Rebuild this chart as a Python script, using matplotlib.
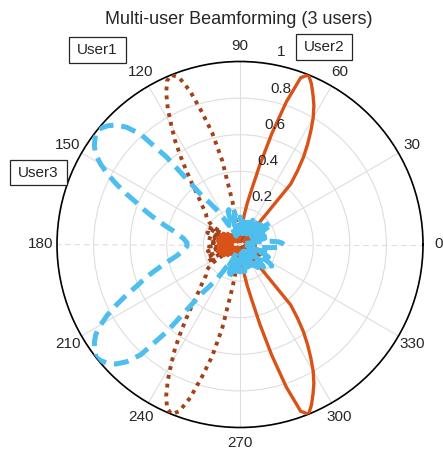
import numpy as np
import matplotlib
matplotlib.use('Agg')
import matplotlib.pyplot as plt
from matplotlib.patches import Rectangle

plt.rcParams['font.family'] = ['Liberation Sans', 'DejaVu Sans']

# Beam pattern magnitudes, sampled every 2 degrees from 0 to 180
# (the array response is mirror-symmetric about the 0-180 axis)
angles_deg = list(range(0, 182, 2))

user1_gain = [
    0.06, 0.09, 0.05, 0.03, 0.07, 0.10, 0.06, 0.03, 0.08, 0.12,
    0.09, 0.04, 0.09, 0.13, 0.14, 0.08, 0.04, 0.09, 0.12, 0.08,
    0.03, 0.07, 0.10, 0.07, 0.02, 0.06, 0.09, 0.07, 0.03, 0.05,
    0.08, 0.06, 0.02, 0.05, 0.08, 0.06, 0.02, 0.06, 0.10, 0.08,
    0.03, 0.08, 0.12, 0.10, 0.04, 0.08, 0.12, 0.10, 0.06, 0.12,
    0.24, 0.47, 0.63, 0.75, 0.88, 0.97, 1.00, 0.98, 0.92, 0.84,
    0.75, 0.67, 0.58, 0.50, 0.43, 0.37, 0.33, 0.30, 0.27, 0.25,
    0.24, 0.23, 0.21, 0.18, 0.12, 0.17, 0.20, 0.14, 0.08, 0.15,
    0.19, 0.13, 0.07, 0.14, 0.18, 0.12, 0.06, 0.13, 0.17, 0.11,
    0.08,
]

user2_gain = [
    0.08, 0.06, 0.03, 0.05, 0.08, 0.07, 0.04, 0.08, 0.10, 0.06,
    0.03, 0.07, 0.11, 0.09, 0.04, 0.06, 0.10, 0.11, 0.07, 0.03,
    0.06, 0.08, 0.05, 0.03, 0.12, 0.43, 0.51, 0.59, 0.66, 0.73,
    0.80, 0.86, 0.91, 0.96, 1.00, 0.97, 0.82, 0.63, 0.45, 0.31,
    0.23, 0.16, 0.09, 0.04, 0.06, 0.09, 0.08, 0.03, 0.05, 0.08,
    0.06, 0.02, 0.05, 0.07, 0.05, 0.02, 0.04, 0.06, 0.05, 0.02,
    0.04, 0.06, 0.04, 0.02, 0.05, 0.07, 0.06, 0.02, 0.06, 0.09,
    0.08, 0.03, 0.07, 0.11, 0.09, 0.04, 0.08, 0.12, 0.10, 0.05,
    0.07, 0.11, 0.13, 0.09, 0.04, 0.09, 0.12, 0.10, 0.06, 0.10,
    0.12,
]

user3_gain = [
    0.24, 0.23, 0.21, 0.17, 0.10, 0.04, 0.09, 0.14, 0.13, 0.07,
    0.10, 0.15, 0.17, 0.12, 0.06, 0.13, 0.19, 0.21, 0.20, 0.14,
    0.08, 0.15, 0.18, 0.12, 0.05, 0.11, 0.16, 0.14, 0.07, 0.09,
    0.14, 0.15, 0.10, 0.04, 0.09, 0.13, 0.12, 0.06, 0.08, 0.13,
    0.15, 0.11, 0.05, 0.10, 0.14, 0.15, 0.12, 0.06, 0.09, 0.15,
    0.18, 0.14, 0.07, 0.13, 0.20, 0.19, 0.12, 0.05, 0.10, 0.14,
    0.12, 0.17, 0.23, 0.28, 0.34, 0.62, 0.81, 0.89, 0.94, 0.97,
    0.99, 1.00, 0.98, 0.96, 0.93, 0.88, 0.82, 0.75, 0.68, 0.61,
    0.56, 0.51, 0.46, 0.42, 0.38, 0.35, 0.33, 0.31, 0.30, 0.29,
    0.29,
]

user_names = ['User1', 'User2', 'User3']
r_ticks = [0.2, 0.4, 0.6, 0.8, 1.0]
r_tick_labels = ['0.2', '0.4', '0.6', '0.8', '1']
theta_ticks = list(range(0, 360, 30))


def full_circle(gain):
    # mirror the 0..180 half onto 180..360
    a = np.array(angles_deg, dtype=float)
    g = np.array(gain, dtype=float)
    th = np.concatenate([a, 360 - a[-2::-1]])
    rr = np.concatenate([g, g[-2::-1]])
    return np.deg2rad(th), rr


W, H = 443, 457
fig = plt.figure(figsize=(W / 100, H / 100), dpi=100)
ax = fig.add_axes([57 / W, 1 - 427.5 / H, 366 / W, 366 / H], projection='polar')

txt_color = '#262626'
grid_color = '#dedede'

th, rr = full_circle(user1_gain)
ax.plot(th, rr, color='#a2421a', lw=2.8, linestyle=(0, (1, 1.3)),
        dash_capstyle='butt', zorder=3)
th, rr = full_circle(user2_gain)
ax.plot(th, rr, color='#d95319', lw=2.4, zorder=4)
th, rr = full_circle(user3_gain)
ax.plot(th, rr, color='#4dbeee', lw=3.6, linestyle=(0, (3, 1.6)),
        zorder=5)

ax.set_rlim(0, 1)
ax.set_rticks(r_ticks)
ax.set_yticklabels([])
ax.set_thetagrids(theta_ticks, [str(t) for t in theta_ticks])
ax.tick_params(axis='x', pad=1.0, labelsize=11, colors=txt_color)
ax.grid(True, color=grid_color, lw=0.8)
gl = ax.xaxis.get_gridlines()
for i in (0, 6):
    gl[i].set_linestyle((0, (5, 3.5)))
ax.spines['polar'].set_color('black')
ax.spines['polar'].set_linewidth(1.2)

# radial labels along the 80 degree spoke
for r, lab in zip(r_ticks, r_tick_labels):
    ax.annotate(lab, xy=(np.deg2rad(80), r), xytext=(3.5, 8.5),
                textcoords='offset points', ha='left', va='center',
                fontsize=11, color=txt_color, zorder=6)

fig.text(239 / W, 1 - 20 / H, 'Multi-user Beamforming (3 users)',
         ha='center', va='center', fontsize=13, color=txt_color)

# boxed user labels (pixel boxes: left, top, right, bottom)
label_boxes = [(69, 37, 126, 63), (296, 34, 352, 60), (10, 160, 67, 185)]
for name, (x0, y0, x1, y1) in zip(user_names, label_boxes):
    fig.patches.append(Rectangle((x0 / W, 1 - y1 / H), (x1 - x0) / W,
                                 (y1 - y0) / H, transform=fig.transFigure,
                                 fc='white', ec=txt_color, lw=0.9))
    fig.text((x0 + x1) / 2 / W, 1 - (y0 + y1) / 2 / H, name,
             ha='center', va='center', fontsize=11, color=txt_color)

fig.savefig('out.png', dpi=100)
